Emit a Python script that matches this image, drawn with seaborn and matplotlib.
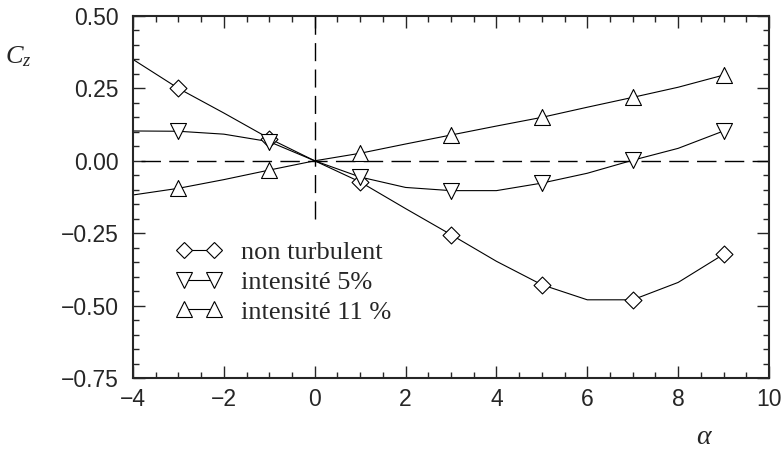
import matplotlib
matplotlib.use("Agg")
import matplotlib.pyplot as plt
from matplotlib.lines import Line2D
from matplotlib.ticker import MultipleLocator
import numpy as np
import pandas as pd
import seaborn as sns

# ---- data ----
alpha = [-4, -3, -2, -1, 0, 1, 2, 3, 4, 5, 6, 7, 8, 9]
cz_non_turbulent = [0.35, 0.25, 0.165, 0.077, 0.0, -0.073, -0.165, -0.255, -0.347, -0.428, -0.48, -0.48, -0.42, -0.323]
cz_intensite_5 = [0.103, 0.102, 0.092, 0.066, 0.0, -0.056, -0.092, -0.103, -0.103, -0.077, -0.043, 0.002, 0.043, 0.103]
cz_intensite_11 = [-0.118, -0.095, -0.065, -0.032, 0.0, 0.026, 0.058, 0.089, 0.12, 0.15, 0.185, 0.219, 0.254, 0.296]
marker_alpha = [-3, -1, 1, 3, 5, 7, 9]
series_labels = ["non turbulent", "intensité 5%", "intensité 11 %"]
x_ticks = [-4, -2, 0, 2, 4, 6, 8, 10]
y_ticks = [-0.75, -0.50, -0.25, 0.00, 0.25, 0.50]

series_values = [cz_non_turbulent, cz_intensite_5, cz_intensite_11]
rows = []
for lab, vals in zip(series_labels, series_values):
    for a, v in zip(alpha, vals):
        rows.append({"alpha": a, "cz": v, "series": lab})
df = pd.DataFrame(rows)
df_mk = df[df["alpha"].isin(marker_alpha)]

sns.set_style("ticks")
plt.rcParams["font.family"] = ["Liberation Sans", "DejaVu Sans"]
plt.rcParams["mathtext.fontset"] = "custom"
plt.rcParams["mathtext.it"] = "Liberation Serif:italic"
plt.rcParams["mathtext.rm"] = "Liberation Serif"

fig = plt.figure(figsize=(7.81, 4.51), dpi=100)
ax = fig.add_axes([133 / 781, 1 - 378 / 451, 636 / 781, 362 / 451])

styles = {
    "non turbulent": dict(marker="D", ms=8.6),
    "intensité 5%": dict(marker="v", ms=11.5),
    "intensité 11 %": dict(marker="^", ms=11.5),
}

# reference dashed lines
ax.axhline(0, xmin=0.012, xmax=1, color="black", lw=1.0, dashes=(14, 6), zorder=1)
ax.axvline(0, ymin=(-0.2 + 0.75) / 1.25, ymax=1, color="black", lw=1.0, dashes=(13, 6), zorder=1)

for lab in series_labels:
    sub = df[df["series"] == lab]
    sns.lineplot(data=sub, x="alpha", y="cz", ax=ax, color="black", lw=0.8,
                 estimator=None, sort=False, legend=False, zorder=2)
    subm = df_mk[df_mk["series"] == lab]
    st = styles[lab]
    sns.scatterplot(data=subm, x="alpha", y="cz", ax=ax, marker=st["marker"],
                    s=st["ms"] ** 2, facecolor="white", edgecolor="black",
                    linewidth=0.8, legend=False, zorder=3)

ax.set_xlim(-4, 10)
ax.set_ylim(-0.75, 0.5)
ax.set_xticks(x_ticks)
ax.set_yticks(y_ticks)
ax.set_yticklabels([f"{v:.2f}".replace("-", "\u2212") for v in y_ticks])
ax.xaxis.set_minor_locator(MultipleLocator(0.5))
ax.yaxis.set_minor_locator(MultipleLocator(0.05))
ax.tick_params(which="both", direction="in", top=True, right=True, width=1.0, labelsize=16.5)
ax.tick_params(which="major", length=8.6)
ax.tick_params(which="minor", length=4.3)
ax.tick_params(axis="x", pad=7)
ax.tick_params(axis="y", pad=10)
for sp in ax.spines.values():
    sp.set_linewidth(1.5)
ax.set_xlabel("")
ax.set_ylabel("")

handles = [Line2D([], [], color="black", lw=0.8, marker=styles[l]["marker"],
                  ms=styles[l]["ms"], markerfacecolor="white", markeredgecolor="black",
                  markeredgewidth=0.8) for l in series_labels]
leg = ax.legend(handles, series_labels, loc="center left",
                bbox_to_anchor=((165.5 - 133) / 636, (378 - 282) / 362),
                numpoints=2, handlelength=1.72, handletextpad=0.75, labelspacing=0.24,
                borderpad=0.4, borderaxespad=0, frameon=True, fancybox=False,
                prop={"family": "Liberation Serif", "size": 19})
leg.get_frame().set_facecolor("white")
leg.get_frame().set_edgecolor("none")
leg.get_frame().set_alpha(1)

fig.text(18 / 781, 1 - 57 / 451, r"$C_z$", fontsize=19, ha="center", va="center")
fig.text(703 / 781, 1 - 437 / 451, "α", fontsize=20, ha="center", va="center",
         family="Liberation Serif", style="italic")

fig.savefig("out.png", dpi=100)
